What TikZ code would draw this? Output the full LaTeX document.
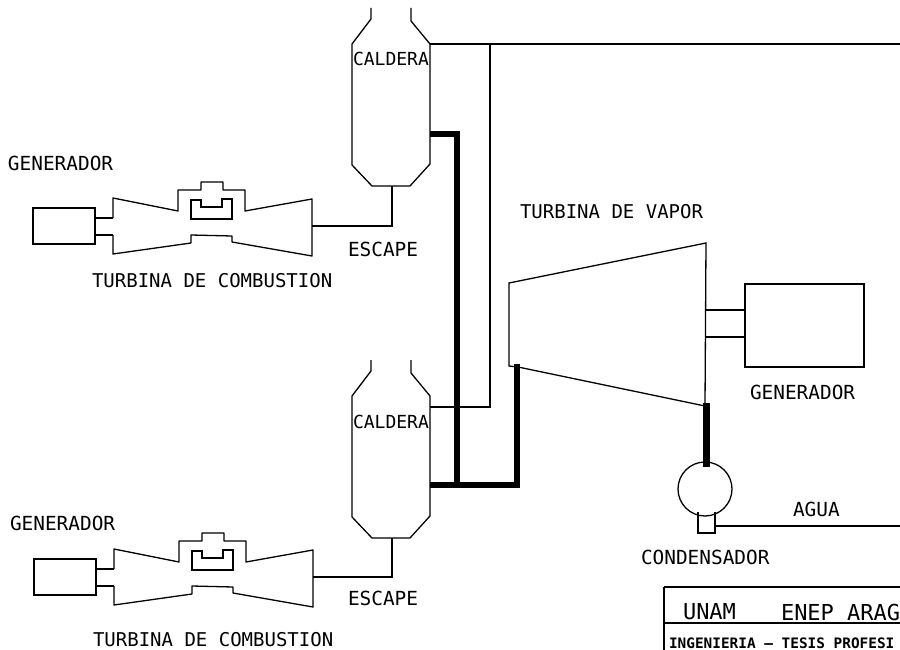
\documentclass[tikz,border=0pt]{standalone}
\usepackage{fontspec}
\setmainfont{DejaVu Sans Mono}
\usetikzlibrary{calc}
\tikzset{
  thinline/.style={line width=1.3pt, black},
  thickline/.style={line width=6.5pt, black},
  plotlabel/.style={anchor=west, inner sep=0pt, outer sep=0pt, text=black, font=\fontsize{19.4}{19.4}\selectfont},
  turbinelabel/.style={plotlabel, font=\fontsize{19}{19}\selectfont},
  calderalabel/.style={plotlabel, font=\fontsize{18}{18}\selectfont},
  titlelabel/.style={plotlabel, font=\fontsize{22}{22}\selectfont},
  genbox/.style={draw, thinline, rectangle, inner sep=0pt, outer sep=0pt},
}
\begin{document}
\begin{tikzpicture}[x=1pt,y=-1pt]
\useasboundingbox (0,0) rectangle (900,650);
\clip (0,0) rectangle (900,650);

% Gas turbines with their generators
\foreach \tg/\dx/\dy in {a/0/0, b/1/351} {
  \begin{scope}[shift={(\dx,\dy)}]
    \node[genbox, minimum width=62, minimum height=36] (gen\tg) at (64,226) {};
    \coordinate (shaftup\tg) at (113,218);
    \coordinate (shaftlo\tg) at (113,235);
    \coordinate (exhaust\tg) at (312,226);
    \draw[thinline] (gen\tg.east |- shaftup\tg) -- (shaftup\tg);
    \draw[thinline] (gen\tg.east |- shaftlo\tg) -- (shaftlo\tg);
    \draw[thinline, line join=round] (shaftup\tg) -- (113,198) -- (178,211) -- (178,190) -- (201,190)
      -- (201,182) -- (223,182) -- (223,190) -- (245,190) -- (245,211) -- (312,199) -- (312,256)
      -- (232,242) -- (232,236) -- (191,235) -- (191,243) -- (113,254) -- (shaftlo\tg);
    % combustor
    \draw[thinline] (191,200) -- (191,219) -- (232,219) -- (232,199) -- (222,199)
      -- (222,207) -- (201,207) -- (201,200) -- cycle;
  \end{scope}
}

% Boilers
\foreach \cal/\top in {a/0, b/352} {
  \begin{scope}[shift={(0,\top)}]
    \draw[thinline] (371,8) -- (371,19) -- (352,44) -- (352,165) -- (372,186) -- (410,186)
      -- (430,164) -- (430,44) -- (411,21) -- (411,8);
    \coordinate (calout\cal) at (430,44);
    \coordinate (calbot\cal) at (392,186);
  \end{scope}
}
\coordinate (calsteam) at (430,407);
\coordinate (calhot) at (430,134);
\coordinate (calhotb) at (430,485);

% Exhaust lines
\draw[thinline] (exhausta) -| (calbota);
\draw[thinline] (exhaustb) -| (calbotb);

% Steam lines
\coordinate (steamend) at (900,44);
\draw[thinline] (calouta) -- (steamend);
\draw[thinline] (490,44) -- (490,407) -- (calsteam);

% Steam turbine
\coordinate (stin) at (517,364);
\draw[thinline] (518,367) -- (509,366) -- (509,283) -- (706,243) -- (705,406) -- (518,367);
\node[genbox, minimum width=119, minimum height=83] (genc) at (804.5,325.5) {};
\coordinate (shaftupc) at (705,310);
\coordinate (shaftloc) at (705,337);
\draw[thinline] (shaftupc) -- (genc.west |- shaftupc);
\draw[thinline] (shaftloc) -- (genc.west |- shaftloc);

% Condenser
\node[draw, thinline, circle, minimum size=54, inner sep=0pt, outer sep=0pt] (cond) at (705,489) {};
\coordinate (condbox) at (715,526);
\coordinate (aguaend) at (900,526);
\draw[thinline] (698,512) -- (698,533) -- (715,533) -- (715,512);
\draw[thinline] (condbox) -- (aguaend);

% Heavy pipes
\draw[thickline] (calhot) -- (457,134) -- (457,485);
\draw[thickline] (calhotb) -- (517,485) -- (stin);
\draw[thickline, line width=7pt] (706,403) -- (706,467);

% Title block
\draw[line width=2.2pt, black] (664,587) -- (664,650);
\draw[line width=1.4pt, black] (664,623) -- (900,623);
\draw[line width=1.4pt, black] (664,587) -- (900,587);

% Labels
\node[plotlabel] (gena-lbl) at (8,163) {GENERADOR};
\node[turbinelabel] (tca-lbl) at (92,281) {TURBINA DE COMBUSTION};
\node[plotlabel] (esca-lbl) at (348,249) {ESCAPE};
\node[calderalabel] (cala-lbl) at (353,59) {CALDERA};
\node[turbinelabel] (tv-lbl) at (520,212) {TURBINA DE VAPOR};
\node[plotlabel] (genc-lbl) at (750,392) {GENERADOR};
\node[calderalabel] (calb-lbl) at (353,422) {CALDERA};
\node[plotlabel] (agua-lbl) at (793,509) {AGUA};
\node[plotlabel] (cond-lbl) at (641,557) {CONDENSADOR};
\node[plotlabel] (genb-lbl) at (10,523) {GENERADOR};
\node[plotlabel] (escb-lbl) at (348,598) {ESCAPE};
\node[turbinelabel] (tcb-lbl) at (93,640) {TURBINA DE COMBUSTION};
\node[titlelabel] (unam-lbl) at (683,612) {UNAM};
\node[titlelabel] (enep-lbl) at (781,612) {ENEP ARAG};
\node[plotlabel, font=\fontsize{14.4}{14.4}\bfseries\selectfont] (ing-lbl) at (669,643) {INGENIERIA — TESIS PROFESI};
\end{tikzpicture}
\end{document}
